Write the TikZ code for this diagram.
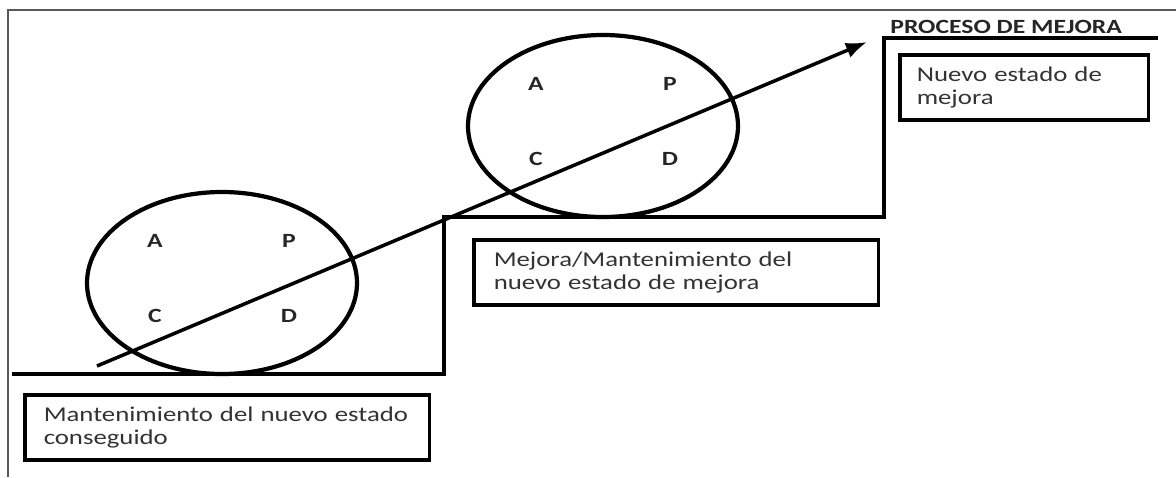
\documentclass[tikz,border=0pt]{standalone}
\usepackage{fontspec}
\setmainfont[FakeStretch=1.27]{Carlito}
\usetikzlibrary{arrows.meta}

\begin{document}
\begin{tikzpicture}[x=0.02cm,y=-0.02cm,
  stair/.style={line width=2.6pt, line join=miter},
  wheel/.style={line width=2.4pt},
  pdca/.style={font=\bfseries\fontsize{11.5}{13}\selectfont, text=black!85, inner sep=0pt},
  textbox/.style={draw, line width=2pt, anchor=north west, align=left,
    minimum height=1.3cm, inner xsep=0.38cm, text=black!80,
    font=\fontsize{12}{13}\selectfont}]

\useasboundingbox (0,0) rectangle (1176,477);

% Radii of the two PDCA circles
\def\rx{135} % horizontal radius
\def\ry{91}  % vertical radius

% Outer frame (only the top and left edges show)
\draw[line width=1pt, black!65] (8,477) -- (8,10) -- (1176,10);

% Corner points of the stairs
\coordinate (s0) at (12,374);
\coordinate (s1) at (444,374);
\coordinate (s2) at (444,217);
\coordinate (s3) at (884,217);
\coordinate (s4) at (884,38);
\coordinate (s5) at (1158,38);
\draw[stair] (s0) -- (s1) -- (s2) -- (s3) -- (s4) -- (s5);

% PDCA circles sitting on the steps
\coordinate (c1) at (222,283);
\coordinate (c2) at (603,126);
\foreach \c in {c1,c2}{
  \draw[wheel] (\c) ellipse [x radius=\rx, y radius=\ry];
  \node[pdca] (\c-A) at ([shift={(-67,-42)}]\c) {A};
  \node[pdca] (\c-P) at ([shift={(67,-42)}]\c) {P};
  \node[pdca] (\c-C) at ([shift={(-67,33)}]\c) {C};
  \node[pdca] (\c-D) at ([shift={(67,33)}]\c) {D};
}

% Rising arrow across both circles
\coordinate (start) at (97,366);
\coordinate (tip) at (867,42);
\draw[line width=2pt, -{Latex[length=12pt,width=9pt]}] (start) -- (tip);

% Title over the top step
\node[anchor=base west, inner sep=0pt, text=black!85,
  font=\bfseries\fontsize{11.5}{13}\selectfont] (title) at (890,33) {PROCESO DE MEJORA};

% Text boxes under each step
\node[textbox, text width=7.34cm] (keep) at (23,393) {Mantenimiento del nuevo estado\\conseguido};
\node[textbox, text width=7.3cm, inner xsep=0.4cm] (improve) at (472,238) {Mejora/Mantenimiento del\\nuevo estado de mejora};
\node[textbox, text width=4.3cm, inner xsep=0.34cm] (new) at (898,53) {Nuevo estado de\\mejora};

\end{tikzpicture}
\end{document}
